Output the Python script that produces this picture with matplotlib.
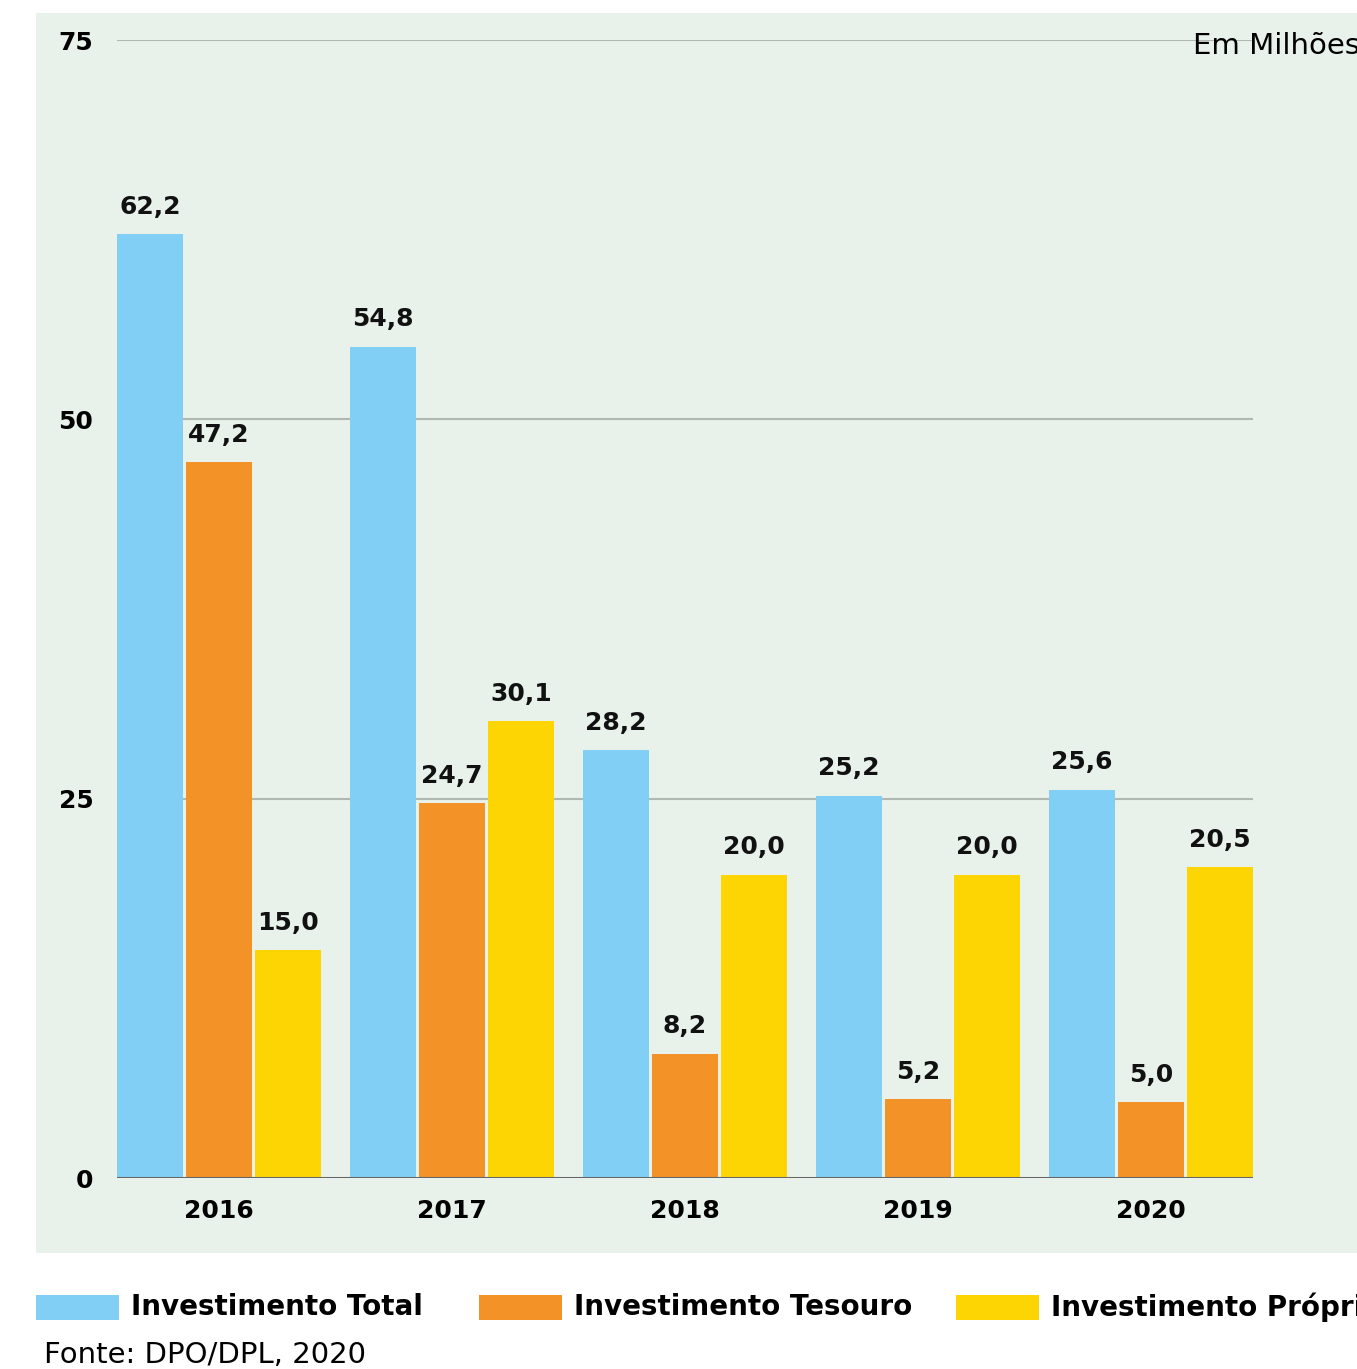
import matplotlib
matplotlib.use("Agg")
import matplotlib.pyplot as plt
from matplotlib.patches import Rectangle
import numpy as np

years = ["2016", "2017", "2018", "2019", "2020"]
series_names = ["Investimento Total", "Investimento Tesouro", "Investimento Próprio"]
total = [62.2, 54.8, 28.2, 25.2, 25.6]
tesouro = [47.2, 24.7, 8.2, 5.2, 5.0]
proprio = [15.0, 30.1, 20.0, 20.0, 20.5]
colors = ["#81CFF4", "#F29227", "#FDD502"]
yticks = [0, 25, 50, 75]

W, H = 1357, 1369
fig = plt.figure(figsize=(W / 100, H / 100), dpi=100)
FONT = ["DejaVu Sans"]
plt.rcParams["font.family"] = FONT

# panel background
fig.patches.append(Rectangle((36 / W, 1 - 1253 / H), (W - 36) / W, (1253 - 13) / H,
                             transform=fig.transFigure, facecolor="#E8F1EA",
                             edgecolor="none", zorder=-5))

ax = fig.add_axes([117 / W, 1 - 1178 / H, (1253 - 117) / W, (1178 - 40) / H])
ax.set_zorder(2)
ax.patch.set_visible(False)
x = np.arange(len(years))
step = 69 / 233
bw = 66 / 233
for k, vals in enumerate([total, tesouro, proprio]):
    pos = x + (k - 1) * step
    bars = ax.bar(pos, vals, width=bw, color=colors[k], zorder=3)
    for p, v in zip(pos, vals):
        ax.annotate(f"{v:.1f}".replace(".", ","), (p, v), xytext=(0, 11),
                    textcoords="offset points", ha="center", va="bottom",
                    fontsize=18, fontweight="bold", color="#111111", zorder=4)

ax.set_xlim(-102 / 233, 4 + 102 / 233)
ax.set_ylim(0, 75)
for t in yticks[1:]:
    ax.axhline(t, color="#B1B7B1", lw=1.5, zorder=1)
ax.axhline(0, color="#666666", lw=2.2, zorder=5)
for s in ax.spines.values():
    s.set_visible(False)
ax.set_yticks(yticks)
ax.set_yticklabels([str(t) for t in yticks], fontsize=18, fontweight="bold")
ax.set_xticks(x)
ax.set_xticklabels(years, fontsize=18, fontweight="bold")
ax.tick_params(length=0)
ax.tick_params(axis="y", pad=17)
ax.tick_params(axis="x", pad=15)

fig.text(1193 / W, 1 - 46 / H, "Em Milhões", fontsize=21, va="center", ha="left")

# legend
lx = [36, 479, 956]
for k in range(3):
    fig.patches.append(Rectangle((lx[k] / W, 1 - 1320 / H), 83 / W, 25 / H,
                                 transform=fig.transFigure, facecolor=colors[k],
                                 edgecolor="none"))
    fig.text((lx[k] + 95) / W, 1 - 1307 / H, series_names[k], fontsize=20,
             fontweight="bold", va="center", ha="left")

fig.text(44 / W, 1 - 1355 / H, "Fonte: DPO/DPL, 2020", fontsize=21, va="center", ha="left")

fig.savefig("out.png", dpi=100, facecolor="white")
